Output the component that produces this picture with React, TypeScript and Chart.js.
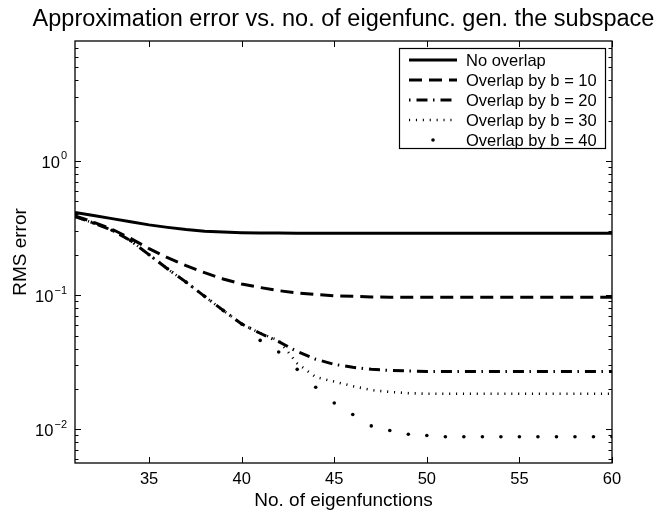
import React, { useEffect, useRef } from "react";
import { Chart, registerables } from "chart.js";

Chart.register(...registerables);

const TITLE = "Approximation error vs. no. of eigenfunc. gen. the subspace";
const X_LABEL = "No. of eigenfunctions";
const Y_LABEL = "RMS error";

const xValues = [31, 32, 33, 34, 35, 36, 37, 38, 39, 40, 41, 42, 43, 44, 45, 46, 47, 48, 49, 50, 51, 52, 53, 54, 55, 56, 57, 58, 59, 60];

const noOverlap = [0.414, 0.393, 0.372, 0.352, 0.334, 0.32, 0.308, 0.3, 0.295, 0.292, 0.291, 0.29, 0.289, 0.289, 0.289, 0.289, 0.289, 0.289, 0.289, 0.289, 0.289, 0.289, 0.289, 0.289, 0.289, 0.289, 0.289, 0.289, 0.289, 0.289];
const overlapB10 = [0.39, 0.35, 0.31, 0.265, 0.222, 0.19, 0.166, 0.147, 0.132, 0.121, 0.114, 0.108, 0.104, 0.101, 0.099, 0.098, 0.097, 0.0965, 0.0965, 0.0965, 0.0965, 0.0965, 0.0965, 0.0965, 0.0965, 0.0965, 0.0965, 0.0965, 0.0965, 0.0965];
const overlapB20 = [0.385, 0.345, 0.305, 0.255, 0.2, 0.157, 0.125, 0.098, 0.077, 0.061, 0.052, 0.045, 0.038, 0.0333, 0.0305, 0.029, 0.028, 0.0275, 0.0272, 0.027, 0.027, 0.027, 0.027, 0.027, 0.027, 0.027, 0.027, 0.027, 0.027, 0.027];
const overlapB30 = [0.385, 0.345, 0.305, 0.255, 0.2, 0.157, 0.125, 0.098, 0.077, 0.061, 0.052, 0.046, 0.031, 0.0245, 0.0227, 0.021, 0.0196, 0.019, 0.0186, 0.0184, 0.0184, 0.0184, 0.0184, 0.0184, 0.0184, 0.0184, 0.0184, 0.0184, 0.0184, 0.0184];
const overlapB40 = [0.385, 0.345, 0.305, 0.255, 0.2, 0.157, 0.125, 0.098, 0.077, 0.061, 0.046, 0.0377, 0.028, 0.0206, 0.0157, 0.0129, 0.0106, 0.0098, 0.0092, 0.009, 0.0088, 0.0088, 0.0088, 0.0088, 0.0088, 0.0088, 0.0088, 0.0088, 0.0088, 0.0088];

const seriesNames = ["No overlap", "Overlap by b = 10", "Overlap by b = 20", "Overlap by b = 30", "Overlap by b = 40"];

const X_MIN = 31;
const X_MAX = 60;
const Y_MIN = 0.00561;
const Y_MAX = 7.84;

const xTicks = [35, 40, 45, 50, 55, 60];
const yMajorTicks = [0.01, 0.1, 1];
const yTickExponents = ["\u22122", "\u22121", "0"];
const yMinorMultipliers = [2, 3, 4, 5, 6, 7, 8, 9];
const yDecades = [0.001, 0.01, 0.1, 1];

const FONT = '"Liberation Sans", Arial, Helvetica, sans-serif';

type Style = { width: number; dash: number[]; legendOffset?: number; dots?: boolean };
const styles: Style[] = [
  { width: 3, dash: [] },
  { width: 3, dash: [13, 7] },
  { width: 3, dash: [11, 5.5, 1.5, 6], legendOffset: 16.5 },
  { width: 2.6, dash: [1.1, 5.8] },
  { width: 0, dash: [], dots: true },
];

const seriesData = [noOverlap, overlapB10, overlapB20, overlapB30, overlapB40];

const axesPlugin = {
  id: "matlabAxes",
  afterDatasetsDraw(chart: any) {
    const { ctx, chartArea: a, scales } = chart;
    const xs = scales.x;
    const ys = scales.y;
    ctx.save();
    ctx.strokeStyle = "#000";
    ctx.fillStyle = "#000";
    ctx.lineWidth = 1.3;
    ctx.setLineDash([]);
    ctx.strokeRect(a.left, a.top, a.right - a.left, a.bottom - a.top);

    // tick marks (inward, both sides)
    ctx.lineWidth = 1;
    ctx.beginPath();
    for (const t of xTicks) {
      const px = Math.round(xs.getPixelForValue(t)) + 0.5;
      ctx.moveTo(px, a.bottom);
      ctx.lineTo(px, a.bottom - 6);
      ctx.moveTo(px, a.top);
      ctx.lineTo(px, a.top + 6);
    }
    for (const d of yDecades) {
      const vals = [d, ...yMinorMultipliers.map((m) => m * d)];
      vals.forEach((v, i) => {
        if (v < Y_MIN || v > Y_MAX) return;
        const len = i === 0 ? 6 : 3.5;
        const py = Math.round(ys.getPixelForValue(v)) + 0.5;
        ctx.moveTo(a.left, py);
        ctx.lineTo(a.left + len, py);
        ctx.moveTo(a.right, py);
        ctx.lineTo(a.right - len, py);
      });
    }
    ctx.stroke();

    // x tick labels
    ctx.font = `16.5px ${FONT}`;
    ctx.textAlign = "center";
    ctx.textBaseline = "alphabetic";
    for (const t of xTicks) {
      ctx.fillText(String(t), xs.getPixelForValue(t), a.bottom + 21);
    }

    // y tick labels 10^k
    yMajorTicks.forEach((v, i) => {
      const py = ys.getPixelForValue(v);
      ctx.font = `16.5px ${FONT}`;
      const wBase = ctx.measureText("10").width;
      ctx.font = `11px ${FONT}`;
      const wExp = ctx.measureText(yTickExponents[i]).width;
      const right = a.left - 8;
      const start = right - wBase - wExp - 1;
      ctx.textAlign = "left";
      ctx.textBaseline = "alphabetic";
      ctx.font = `16.5px ${FONT}`;
      ctx.fillText("10", start, py + 7);
      ctx.font = `11px ${FONT}`;
      ctx.fillText(yTickExponents[i], start + wBase + 1, py - 1.5);
    });

    // axis labels
    ctx.font = `19px ${FONT}`;
    ctx.textAlign = "center";
    ctx.textBaseline = "alphabetic";
    ctx.fillText(X_LABEL, (a.left + a.right) / 2, a.bottom + 43);
    ctx.save();
    ctx.translate(21, (a.top + a.bottom) / 2);
    ctx.rotate(-Math.PI / 2);
    ctx.textBaseline = "middle";
    ctx.fillText(Y_LABEL, 0, 0);
    ctx.restore();

    // title
    ctx.font = `23.5px ${FONT}`;
    ctx.textAlign = "center";
    ctx.textBaseline = "alphabetic";
    ctx.fillText(TITLE, (a.left + a.right) / 2, 26);

    // legend
    const lx = 399, ly = 48, lw = 206, lh = 100;
    ctx.fillStyle = "#fff";
    ctx.fillRect(lx, ly, lw, lh);
    ctx.strokeStyle = "#000";
    ctx.lineWidth = 1.2;
    ctx.strokeRect(lx + 0.5, ly + 0.5, lw, lh);
    ctx.fillStyle = "#000";
    seriesNames.forEach((name, i) => {
      const y = ly + 12 + i * 20;
      const st = styles[i];
      if (st.dots) {
        ctx.beginPath();
        ctx.arc(433, y, 1.8, 0, Math.PI * 2);
        ctx.fill();
      } else {
        ctx.save();
        ctx.lineWidth = st.width;
        ctx.lineCap = "butt";
        ctx.setLineDash(st.dash);
        ctx.lineDashOffset = st.legendOffset || 0;
        ctx.beginPath();
        ctx.moveTo(409, y);
        ctx.lineTo(457, y);
        ctx.stroke();
        ctx.restore();
      }
      ctx.font = `16.5px ${FONT}`;
      ctx.textAlign = "left";
      ctx.textBaseline = "middle";
      ctx.fillText(name, 466, y + 1);
    });
    ctx.restore();
  },
};

export default function App() {
  const canvasRef = useRef<HTMLCanvasElement | null>(null);

  useEffect(() => {
    const canvas = canvasRef.current;
    if (!canvas) return;
    const datasets = seriesData.map((arr, i) => {
      const st = styles[i];
      return {
        label: seriesNames[i],
        data: xValues.map((x, j) => ({ x, y: arr[j] })),
        borderColor: "#000",
        backgroundColor: "#000",
        borderWidth: st.width,
        borderDash: st.dash,
        borderCapStyle: "butt" as const,
        showLine: !st.dots,
        pointRadius: st.dots ? 1.8 : 0,
        pointBorderWidth: 0,
        pointBackgroundColor: "#000",
        tension: 0,
        fill: false,
      };
    });
    const chart = new Chart(canvas, {
      type: "line",
      data: { datasets },
      options: {
        responsive: false,
        animation: false,
        devicePixelRatio: 1,
        layout: { padding: { left: 75, right: 50, top: 41, bottom: 49 } },
        plugins: {
          legend: { display: false },
          title: { display: false },
          tooltip: { enabled: false },
        },
        scales: {
          x: { type: "linear", min: X_MIN, max: X_MAX, display: false },
          y: { type: "logarithmic", min: Y_MIN, max: Y_MAX, display: false },
        },
      },
      plugins: [axesPlugin],
    });
    return () => chart.destroy();
  }, []);

  return (
    <div style={{ position: "absolute", left: 0, top: 0, width: 662, height: 512, background: "#fff" }}>
      <canvas ref={canvasRef} width={662} height={512} style={{ display: "block" }} />
    </div>
  );
}
